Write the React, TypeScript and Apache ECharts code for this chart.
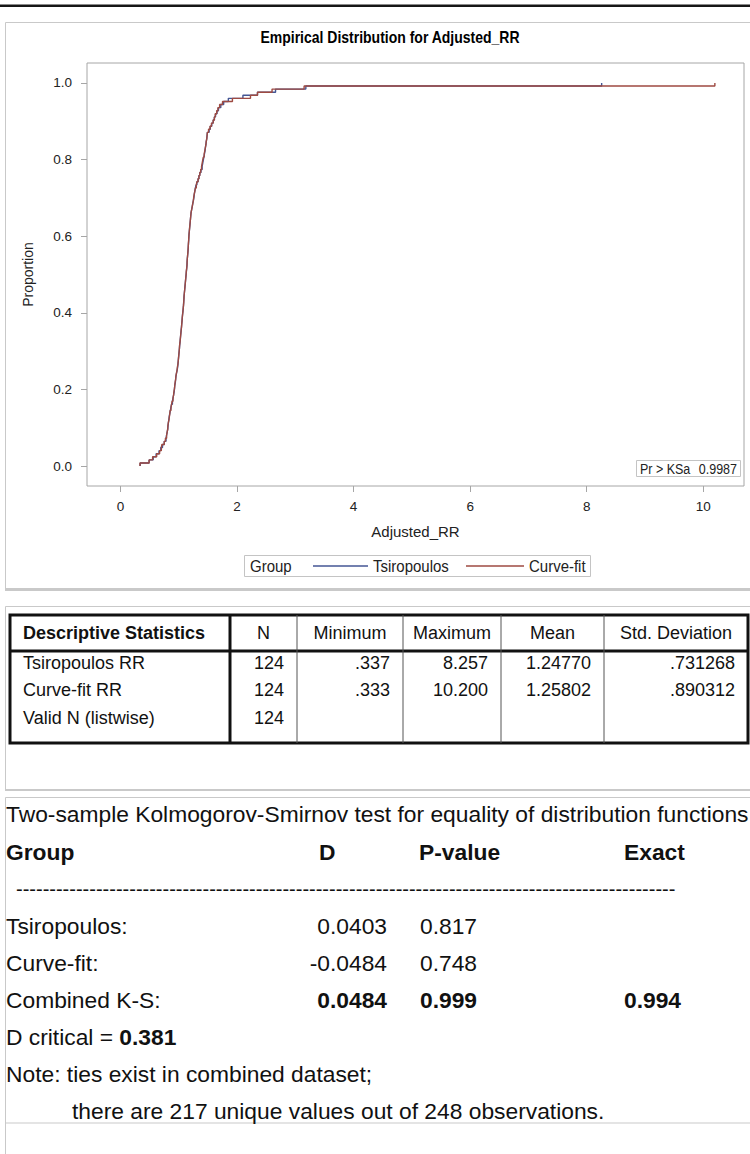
import React, { useEffect, useRef } from "react";
import * as echarts from "echarts";

// Sorted Adjusted_RR observations per group (124 each)
const tsiropoulosRR = [
  0.337, 0.49, 0.56, 0.61, 0.66, 0.69, 0.72, 0.75, 0.78, 0.79,
  0.8, 0.81, 0.815, 0.82, 0.83, 0.835, 0.845, 0.855, 0.865, 0.875,
  0.89, 0.9, 0.91, 0.92, 0.925, 0.93, 0.94, 0.945, 0.95, 0.96,
  0.97, 0.98, 0.985, 0.99, 0.995, 1.0, 1.005, 1.01, 1.015, 1.02,
  1.025, 1.03, 1.035, 1.04, 1.045, 1.05, 1.055, 1.06, 1.063, 1.07,
  1.075, 1.08, 1.083, 1.087, 1.09, 1.095, 1.1, 1.105, 1.11, 1.115,
  1.12, 1.125, 1.13, 1.135, 1.14, 1.142, 1.145, 1.15, 1.155, 1.16,
  1.162, 1.165, 1.17, 1.172, 1.175, 1.18, 1.185, 1.19, 1.195, 1.2,
  1.205, 1.21, 1.22, 1.23, 1.24, 1.25, 1.26, 1.265, 1.275, 1.285,
  1.295, 1.31, 1.33, 1.345, 1.36, 1.38, 1.4, 1.41, 1.42, 1.43,
  1.44, 1.45, 1.455, 1.465, 1.47, 1.48, 1.485, 1.49, 1.52, 1.54,
  1.565, 1.59, 1.61, 1.63, 1.655, 1.68, 1.72, 1.77, 1.85, 2.1,
  2.35, 2.66, 3.18, 8.257,
];

const curveFitRR = [
  0.333, 0.49, 0.55, 0.62, 0.67, 0.7, 0.71, 0.75, 0.77, 0.79,
  0.8, 0.81, 0.812, 0.82, 0.83, 0.838, 0.845, 0.85, 0.865, 0.875,
  0.885, 0.9, 0.91, 0.915, 0.925, 0.93, 0.935, 0.945, 0.95, 0.958,
  0.97, 0.975, 0.985, 0.99, 0.995, 1.0, 1.005, 1.01, 1.012, 1.02,
  1.025, 1.03, 1.035, 1.04, 1.047, 1.05, 1.055, 1.058, 1.065, 1.07,
  1.075, 1.08, 1.085, 1.087, 1.09, 1.095, 1.1, 1.105, 1.11, 1.115,
  1.12, 1.125, 1.128, 1.135, 1.14, 1.142, 1.145, 1.15, 1.155, 1.158,
  1.162, 1.165, 1.168, 1.172, 1.175, 1.18, 1.185, 1.19, 1.195, 1.2,
  1.205, 1.21, 1.22, 1.23, 1.24, 1.25, 1.255, 1.265, 1.275, 1.285,
  1.3, 1.31, 1.33, 1.345, 1.36, 1.375, 1.39, 1.4, 1.41, 1.42,
  1.435, 1.445, 1.455, 1.465, 1.47, 1.48, 1.485, 1.49, 1.51, 1.535,
  1.56, 1.59, 1.61, 1.625, 1.65, 1.67, 1.7, 1.75, 1.92, 2.23,
  2.35, 2.6, 3.15, 10.2,
];

const seriesNames = ["Tsiropoulos", "Curve-fit"];
const xTicks = [0, 2, 4, 6, 8, 10];
const yTicks = [0, 0.2, 0.4, 0.6, 0.8, 1.0];
const ksaLabel = "Pr > KSa";
const ksaValue = "0.9987";

// Descriptive statistics table
const statsHeader = ["Descriptive Statistics", "N", "Minimum", "Maximum", "Mean", "Std. Deviation"];
const statsLabels = ["Tsiropoulos RR", "Curve-fit RR", "Valid N (listwise)"];
const statsN = ["124", "124", "124"];
const statsMin = [".337", ".333", ""];
const statsMax = ["8.257", "10.200", ""];
const statsMean = ["1.24770", "1.25802", ""];
const statsSd = [".731268", ".890312", ""];

// Two-sample K-S test output
const ksTitle = "Two-sample Kolmogorov-Smirnov test for equality of distribution functions";
const ksHeader = ["Group", "D", "P-value", "Exact"];
const ksGroups = ["Tsiropoulos:", "Curve-fit:", "Combined K-S:"];
const ksD = ["0.0403", "-0.0484", "0.0484"];
const ksP = ["0.817", "0.748", "0.999"];
const ksExact = ["", "", "0.994"];
const ksCritical = "0.381";
const ksNote1 = "Note: ties exist in combined dataset;";
const ksNote2 = "there are 217 unique values out of 248 observations.";
const ksRule = "-".repeat(99);

const FONT = '"Liberation Sans", Arial, Helvetica, sans-serif';
const BLUE = "#445694";
const RED = "#9e4a42";
const FRAME = "#a6a6a6";
const INK = "#111111";

function ecdf(values: number[]) {
  const n = values.length;
  const pts: number[][] = [[values[0], 0]];
  values.forEach((v, i) => pts.push([v, (i + 1) / n]));
  return pts;
}

function text(x: number, y: number, t: string, size: number, extra: any = {}, scaleY = 1) {
  return {
    type: "text",
    x,
    y,
    scaleY,
    silent: true,
    style: {
      text: t,
      fontSize: size,
      fontFamily: FONT,
      fill: INK,
      align: "left",
      verticalAlign: "middle",
      ...extra,
    },
  };
}

function hline(x1: number, x2: number, y: number, color: string, w: number) {
  return { type: "line", silent: true, shape: { x1, y1: y, x2, y2: y }, style: { stroke: color, lineWidth: w } };
}

function vline(x: number, y1: number, y2: number, color: string, w: number) {
  return { type: "line", silent: true, shape: { x1: x, y1, x2: x, y2 }, style: { stroke: color, lineWidth: w } };
}

function box(x: number, y: number, w: number, h: number, color: string, lw: number) {
  return {
    type: "rect",
    silent: true,
    shape: { x, y, width: w, height: h },
    style: { fill: "none", stroke: color, lineWidth: lw },
  };
}

function buildGraphics() {
  const g: any[] = [];
  const PANEL = "#c9c9c9";

  // page rule and panels
  g.push({ type: "rect", silent: true, shape: { x: 0, y: 4.5, width: 750, height: 2.5 }, style: { fill: "#161616" } });
  g.push(box(5.5, 22.5, 800, 566, PANEL, 1));
  g.push(hline(5, 760, 589.5, PANEL, 3));
  g.push(box(5.5, 606.5, 800, 183, PANEL, 1));
  g.push(hline(5, 760, 790, PANEL, 2));
  g.push(box(5.5, 797.5, 800, 325.5, PANEL, 1));
  g.push(vline(5.5, 1123, 1154, PANEL, 1));

  // chart title
  g.push(text(390, 37, "Empirical Distribution for Adjusted_RR", 14, { align: "center", fontWeight: "bold", fill: "#000" }, 1.15));

  // KS inset
  g.push({
    type: "rect",
    silent: true,
    shape: { x: 636.5, y: 460.5, width: 104, height: 16 },
    style: { fill: "#fff", stroke: "#c4c4c4", lineWidth: 1 },
  });
  g.push(text(640, 469, ksaLabel, 12.5, { fill: "#222" }, 1.1));
  g.push(text(737, 469, ksaValue, 12.5, { fill: "#222", align: "right" }, 1.1));

  // legend
  g.push({
    type: "rect",
    silent: true,
    shape: { x: 244.5, y: 555.5, width: 346, height: 21 },
    style: { fill: "#fff", stroke: "#c4c4c4", lineWidth: 1 },
  });
  g.push(text(250, 566, "Group", 15, { fill: "#222" }, 1.1));
  g.push(hline(313, 368, 566, BLUE, 1.3));
  g.push(text(373, 566, seriesNames[0], 15, { fill: "#222" }, 1.1));
  g.push(hline(466, 524, 566, RED, 1.3));
  g.push(text(529, 566, seriesNames[1], 15, { fill: "#222" }, 1.1));

  // descriptive statistics table
  const cols = [10, 230, 297, 403, 501, 604, 748];
  const tTop = 615;
  const tHead = 651;
  const tBottom = 743;
  const TS = 18;
  g.push(box(cols[0], tTop, cols[6] - cols[0], tBottom - tTop, INK, 3));
  g.push(hline(cols[0], cols[6], tHead, INK, 3));
  g.push(vline(cols[1], tTop, tBottom, INK, 3));
  for (let i = 2; i < 6; i++) g.push(vline(cols[i], tTop, tBottom, "#555", 1));

  g.push(text(23, 633, statsHeader[0], TS, { fontWeight: "bold" }));
  for (let c = 1; c < 6; c++) {
    g.push(text((cols[c] + cols[c + 1]) / 2, 633, statsHeader[c], TS, { align: "center" }));
  }
  const rowY = [663, 690, 718];
  const colVals = [statsN, statsMin, statsMax, statsMean, statsSd];
  statsLabels.forEach((lab, r) => {
    g.push(text(23, rowY[r], lab, TS));
    colVals.forEach((vals, c) => {
      if (vals[r]) g.push(text(cols[c + 2] - 13, rowY[r], vals[r], TS, { align: "right" }));
    });
  });

  // K-S test output
  const KS = 22.8;
  const dRight = 387;
  const pLeft = 420;
  const exLeft = 624;
  g.push(text(6, 814, ksTitle, KS));
  g.push(text(6, 852, ksHeader[0], KS, { fontWeight: "bold" }));
  g.push(text(319, 852, ksHeader[1], KS, { fontWeight: "bold" }));
  g.push(text(pLeft - 1, 852, ksHeader[2], KS, { fontWeight: "bold" }));
  g.push(text(exLeft, 852, ksHeader[3], KS, { fontWeight: "bold" }));
  g.push(text(16, 889, ksRule, 20));
  const ksY = [926, 963, 1000];
  ksGroups.forEach((grp, i) => {
    const bold = i === 2 ? { fontWeight: "bold" } : {};
    g.push(text(6, ksY[i], grp, KS));
    g.push(text(dRight, ksY[i], ksD[i], KS, { align: "right", ...bold }));
    g.push(text(pLeft, ksY[i], ksP[i], KS, bold));
    if (ksExact[i]) g.push(text(exLeft, ksY[i], ksExact[i], KS, bold));
  });
  g.push({
    type: "text",
    x: 6,
    y: 1037,
    silent: true,
    style: {
      text: "{a|D critical = }{b|" + ksCritical + "}",
      fontFamily: FONT,
      fontSize: KS,
      fill: INK,
      verticalAlign: "middle",
      rich: {
        a: { fontFamily: FONT, fontSize: KS, fill: INK },
        b: { fontFamily: FONT, fontSize: KS, fill: INK, fontWeight: "bold" },
      },
    },
  });
  g.push(text(6, 1074, ksNote1, KS));
  g.push(text(72, 1111, ksNote2, KS));

  return g;
}

export default function App() {
  const ref = useRef<HTMLDivElement>(null);

  useEffect(() => {
    document.body.style.margin = "0";
    const chart = echarts.init(ref.current as HTMLDivElement, null, { renderer: "svg" });
    const option: any = {
      animation: false,
      backgroundColor: "#ffffff",
      textStyle: { fontFamily: FONT },
      grid: {
        left: 87,
        top: 63,
        right: 6,
        bottom: 1154 - 486,
        show: true,
        borderColor: FRAME,
        borderWidth: 1,
        backgroundColor: "transparent",
      },
      xAxis: {
        type: "value",
        min: -0.576,
        max: 10.7,
        name: "Adjusted_RR",
        nameLocation: "middle",
        nameGap: 38,
        nameTextStyle: { fontSize: 15, color: "#222", fontFamily: FONT },
        axisLine: { show: false, onZero: false },
        axisTick: { show: true, length: 6, lineStyle: { color: FRAME }, customValues: xTicks },
        axisLabel: { customValues: xTicks, fontSize: 13.5, color: "#222", margin: 13, fontFamily: FONT },
        splitLine: { show: false },
      },
      yAxis: {
        type: "value",
        min: -0.052,
        max: 1.052,
        name: "Proportion",
        nameLocation: "middle",
        nameGap: 52,
        nameRotate: 90,
        nameTextStyle: { fontSize: 14, color: "#222", fontFamily: FONT },
        axisLine: { show: false, onZero: false },
        axisTick: { show: true, length: 6, lineStyle: { color: FRAME }, customValues: yTicks },
        axisLabel: {
          customValues: yTicks,
          fontSize: 13.5,
          color: "#222",
          margin: 15,
          fontFamily: FONT,
          formatter: (v: number) => v.toFixed(1),
        },
        splitLine: { show: false },
      },
      series: [
        {
          name: seriesNames[0],
          type: "line",
          step: "end",
          symbol: "none",
          data: ecdf(tsiropoulosRR),
          lineStyle: { color: BLUE, width: 1.4 },
          z: 2,
        },
        {
          name: seriesNames[1],
          type: "line",
          step: "end",
          symbol: "none",
          data: ecdf(curveFitRR),
          lineStyle: { color: RED, width: 1.4 },
          z: 3,
        },
      ],
      graphic: buildGraphics(),
    };
    chart.setOption(option);
    return () => chart.dispose();
  }, []);

  return (
    <div
      ref={ref}
      style={{ position: "absolute", left: 0, top: 0, width: 750, height: 1154, background: "#fff" }}
    />
  );
}
